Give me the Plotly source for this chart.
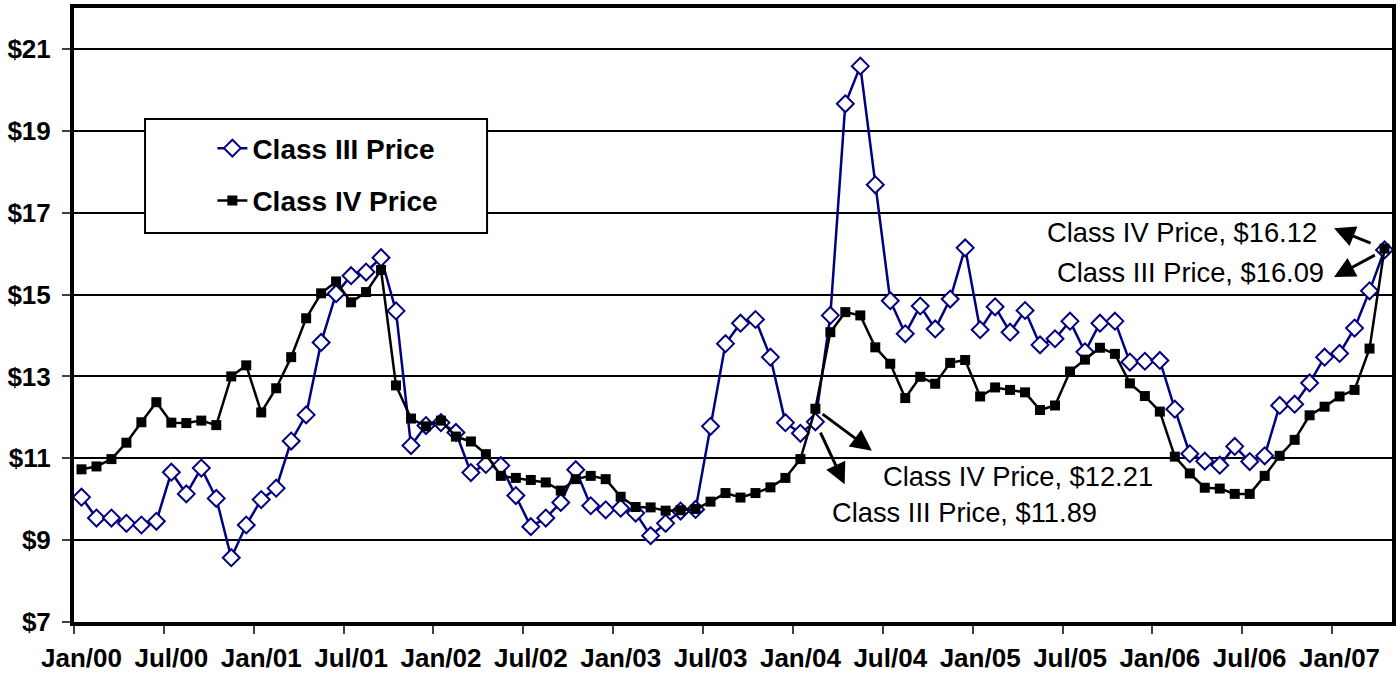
import plotly.graph_objects as go

# ---- data -------------------------------------------------------------
month_names = ["Jan", "Feb", "Mar", "Apr", "May", "Jun",
               "Jul", "Aug", "Sep", "Oct", "Nov", "Dec"]
years = ["00", "01", "02", "03", "04", "05", "06", "07"]
months = [f"{m}/{y}" for y in years for m in month_names][:88]   # Jan/00 .. Apr/07

class_iii = [
    10.05, 9.54, 9.54, 9.41, 9.37, 9.46, 10.66, 10.13, 10.76, 10.02, 8.57, 9.37,
    9.99, 10.27, 11.42, 12.06, 13.83, 15.02, 15.46, 15.55, 15.90, 14.60, 11.31, 11.80,
    11.87, 11.63, 10.65, 10.85, 10.82, 10.09, 9.33, 9.54, 9.92, 10.72, 9.84, 9.74,
    9.78, 9.66, 9.11, 9.41, 9.71, 9.75, 11.78, 13.80, 14.30, 14.39, 13.47, 11.87,
    11.61, 11.89, 14.49, 19.66, 20.58, 17.68, 14.85, 14.04, 14.72, 14.16, 14.89, 16.14,
    14.14, 14.70, 14.08, 14.61, 13.77, 13.92, 14.35, 13.60, 14.30, 14.35, 13.35, 13.37,
    13.39, 12.20, 11.11, 10.93, 10.83, 11.29, 10.92, 11.06, 12.29, 12.32, 12.84, 13.47,
    13.56, 14.18, 15.09, 16.09,
]

class_iv = [
    10.73, 10.80, 10.98, 11.38, 11.88, 12.37, 11.87, 11.86, 11.92, 11.81, 13.00, 13.27,
    12.12, 12.71, 13.47, 14.42, 15.03, 15.32, 14.81, 15.06, 15.60, 12.78, 11.97, 11.78,
    11.92, 11.53, 11.41, 11.10, 10.57, 10.52, 10.47, 10.41, 10.21, 10.49, 10.57, 10.49,
    10.06, 9.81, 9.80, 9.72, 9.73, 9.76, 9.94, 10.15, 10.04, 10.15, 10.29, 10.52,
    10.98, 12.21, 14.08, 14.57, 14.49, 13.71, 13.31, 12.47, 12.99, 12.82, 13.33, 13.40,
    12.51, 12.73, 12.67, 12.61, 12.18, 12.29, 13.12, 13.41, 13.70, 13.55, 12.83, 12.52,
    12.14, 11.04, 10.63, 10.28, 10.26, 10.13, 10.13, 10.57, 11.06, 11.45, 12.05, 12.26,
    12.51, 12.67, 13.68, 16.12,
]

tick_labels = ["Jan/00", "Jul/00", "Jan/01", "Jul/01", "Jan/02", "Jul/02", "Jan/03",
               "Jul/03", "Jan/04", "Jul/04", "Jan/05", "Jul/05", "Jan/06", "Jul/06",
               "Jan/07"]
y_ticks = [7, 9, 11, 13, 15, 17, 19, 21]
y_tick_labels = [f"${v}" for v in y_ticks]

x_idx = list(range(len(months)))
tick_pos = [months.index(t) for t in tick_labels]

FONT = "Liberation Sans, Arial, sans-serif"
NAVY = "#000080"

fig = go.Figure()
fig.add_trace(go.Scatter(
    x=x_idx, y=class_iii, customdata=months, name="Class III Price",
    mode="lines+markers", legendgroup="a",
    line=dict(color=NAVY, width=2.5),
    marker=dict(symbol="diamond", size=13, color="white",
                line=dict(color=NAVY, width=2)),
    hovertemplate="%{customdata}: $%{y:.2f}<extra>Class III</extra>",
))
fig.add_trace(go.Scatter(
    x=x_idx, y=class_iv, customdata=months, name="Class IV Price",
    mode="lines+markers", legendgroup="b",
    line=dict(color="black", width=2.5),
    marker=dict(symbol="square", size=10, color="black"),
    hovertemplate="%{customdata}: $%{y:.2f}<extra>Class IV</extra>",
))

# ---- annotations -----------------------------------------------------
i_feb04 = months.index("Feb/04")
i_last = len(months) - 1
ann_font = dict(family=FONT, size=27.3, color="black")

texts = [
    (i_feb04, class_iv[i_feb04], f"Class IV Price, ${class_iv[i_feb04]:.2f}", 340, -68),
    (i_feb04, class_iii[i_feb04], f"Class III Price, ${class_iii[i_feb04]:.2f}", 284, -91),
    (i_last, class_iv[i_last], f"Class IV Price, ${class_iv[i_last]:.2f}", -66, 16),
    (i_last, class_iii[i_last], f"Class III Price, ${class_iii[i_last]:.2f}", -59, -23),
]
for x, y, t, xs, ys in texts:
    fig.add_annotation(x=x, y=y, text=t, showarrow=False, xanchor="right",
                       yanchor="middle", xshift=xs, yshift=ys, font=ann_font)

arrows = [
    (i_feb04, class_iv[i_feb04], 58, 43, 9),
    (i_feb04, class_iii[i_feb04], 30, 64, 12),
    (i_last, class_iv[i_last], -52, -21, 15),
    (i_last, class_iii[i_last], -52, 28, 11),
]
for x, y, ax, ay, so in arrows:
    fig.add_annotation(x=x, y=y, text="", showarrow=True, ax=ax, ay=ay,
                       arrowside="start", startarrowhead=2, startarrowsize=1.4,
                       arrowwidth=3, arrowcolor="black", standoff=so,
                       startstandoff=0)

# legend box
fig.add_shape(type="rect", xref="paper", yref="paper",
              x0=0.0539, x1=0.3134, y0=0.6334, y1=0.8191,
              line=dict(color="black", width=2), fillcolor="white", layer="above")

fig.update_layout(
    width=1400, height=673,
    margin=dict(l=74, r=8, t=8, b=51),
    paper_bgcolor="white", plot_bgcolor="white",
    font=dict(family=FONT, color="black"),
    showlegend=True,
    legend=dict(x=0.105, y=0.812, xanchor="left", yanchor="top",
                bgcolor="rgba(0,0,0,0)", borderwidth=0,
                traceorder="grouped", tracegroupgap=13,
                font=dict(family=FONT, size=28, color="black", weight="bold")),
    hovermode="closest",
)
fig.update_xaxes(
    range=[-0.5, len(months) - 0.5], automargin=False,
    tickmode="array", tickvals=tick_pos, ticktext=tick_labels,
    ticks="", ticklen=8, ticklabelstandoff=10, showgrid=False, zeroline=False,
    tickfont=dict(family=FONT, size=26, color="black", weight="bold"),
    showline=True, linecolor="black", linewidth=4, mirror=True,
    minor=dict(tickmode="linear", tick0=-0.5, dtick=6, ticks="outside",
               ticklen=8, tickwidth=1.5, tickcolor="#404040", showgrid=False),
)
fig.update_yaxes(
    range=[7, 22], automargin=False,
    tickmode="array", tickvals=y_ticks, ticktext=y_tick_labels,
    ticks="outside", ticklen=8, tickwidth=1.5, tickcolor="#404040",
    ticklabelstandoff=6,
    showgrid=True, gridcolor="black", gridwidth=2, zeroline=False,
    tickfont=dict(family=FONT, size=26, color="black", weight="bold"),
    showline=True, linecolor="black", linewidth=4, mirror=True,
)

fig.write_html("out.html", config={"displayModeBar": False},
               post_script="document.body.style.margin='0';document.body.style.overflow='hidden';")
